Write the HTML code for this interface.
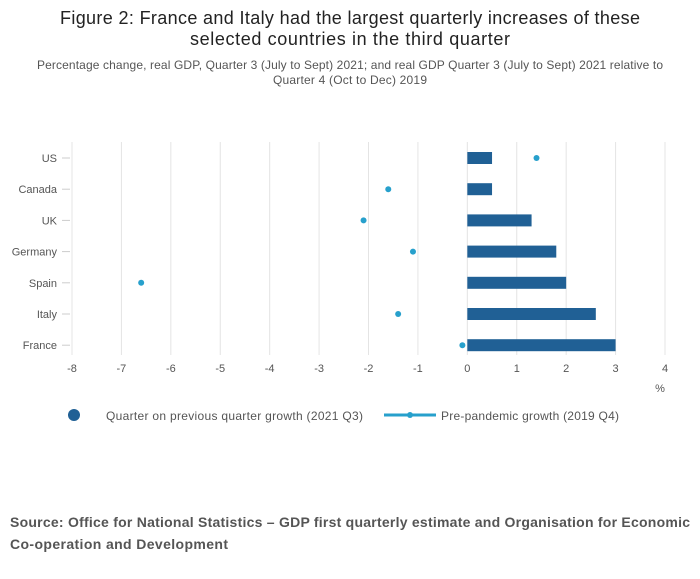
<!DOCTYPE html>
<html><head><meta charset="utf-8"><style>
body{margin:0;background:#fff;font-family:"Liberation Sans",sans-serif;}
</style></head><body>
<svg id="chart" width="700" height="574" xmlns="http://www.w3.org/2000/svg">
<text x="350" y="24" text-anchor="middle" font-size="18" fill="#222" textLength="580">Figure 2: France and Italy had the largest quarterly increases of these</text>
<text x="350" y="45" text-anchor="middle" font-size="18" fill="#222" textLength="320">selected countries in the third quarter</text>
<text x="350" y="69" text-anchor="middle" font-size="12" fill="#555" textLength="626">Percentage change, real GDP, Quarter 3 (July to Sept) 2021; and real GDP Quarter 3 (July to Sept) 2021 relative to</text>
<text x="350" y="84" text-anchor="middle" font-size="12" fill="#555" textLength="154">Quarter 4 (Oct to Dec) 2019</text>
<g id="grid"></g><g id="bars"></g><g id="dots"></g><g id="axes"></g>
<text x="660" y="392" text-anchor="middle" font-size="11" fill="#555">%</text>
<g>
<g><circle cx="74" cy="415" r="6" fill="#206095"/><text x="106" y="420" font-size="12" fill="#555" textLength="257">Quarter on previous quarter growth (2021 Q3)</text></g>
<g><line x1="384" y1="415" x2="436" y2="415" stroke="#27a0cc" stroke-width="3"/><circle cx="410" cy="415" r="3" fill="#27a0cc"/><text x="441" y="420" font-size="12" fill="#555" textLength="178">Pre-pandemic growth (2019 Q4)</text></g>
</g>
<text x="10" y="527" font-size="14" font-weight="bold" fill="#555" textLength="680">Source:  Office for National Statistics – GDP first quarterly estimate and Organisation for Economic</text>
<text x="10" y="549" font-size="14" font-weight="bold" fill="#555" textLength="218">Co-operation and Development</text>
</svg>
<script>
const categories=["US","Canada","UK","Germany","Spain","Italy","France"];
const quarterGrowth=[0.5,0.5,1.3,1.8,2.0,2.6,3.0];
const prePandemic=[1.4,-1.6,-2.1,-1.1,-6.6,-1.4,-0.1];
const xTicks=[-8,-7,-6,-5,-4,-3,-2,-1,0,1,2,3,4];
const NS="http://www.w3.org/2000/svg";
const x=v=>72+(v+8)*(665-72)/12;
const y=i=>158+i*31.2;
function mk(t,a,p){const e=document.createElementNS(NS,t);for(const k in a)e.setAttribute(k,a[k]);document.getElementById(p).appendChild(e);return e;}
xTicks.forEach(t=>{
 const g=mk("line",{x1:x(t),x2:x(t),y1:142,y2:355,stroke:"#e4e4e4","stroke-width":1},"grid");
 
 
 const l=mk("text",{x:x(t),y:372,"text-anchor":"middle","font-size":11,fill:"#555"},"axes");
 l.textContent=t;
 
 
});
categories.forEach((c,i)=>{
 const tk=mk("line",{x1:62,x2:70,y1:y(i),y2:y(i),stroke:"#ccc"},"axes");
 
 
 const l=mk("text",{x:57,y:y(i)+4,"text-anchor":"end","font-size":11,fill:"#555"},"axes");
 l.textContent=c;
 
 
 const v=quarterGrowth[i];
 const b=mk("rect",{x:Math.min(x(0),x(v)),y:y(i)-6,width:Math.abs(x(v)-x(0)),height:12,fill:"#206095"},"bars");
 
 
 const d=mk("circle",{cx:x(prePandemic[i]),cy:y(i),r:3,fill:"#27a0cc"},"dots");
 
 
});
</script>
</body></html>
